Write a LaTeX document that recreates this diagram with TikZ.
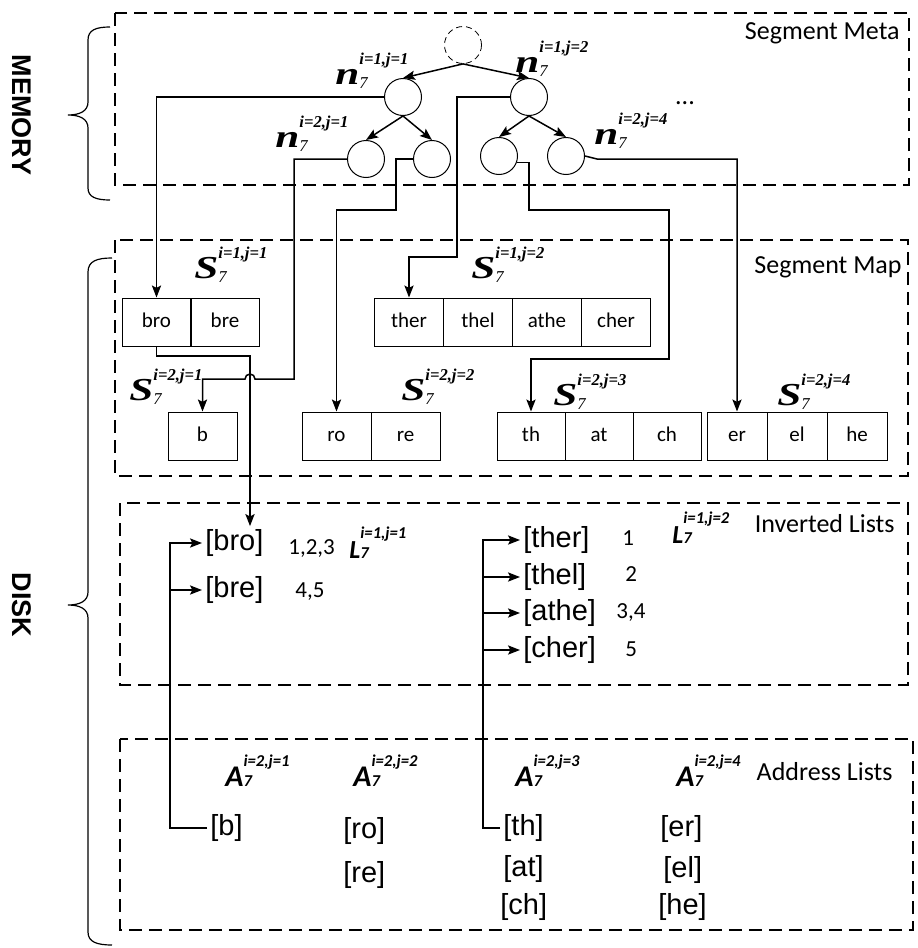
\documentclass[tikz,border=0pt]{standalone}
\usepackage{fontspec}
\newfontfamily\calfont{Carlito}
\newfontfamily\arialfont{Liberation Sans}
\newfontfamily\timesfont{Liberation Serif}
\usetikzlibrary{arrows.meta,positioning,calc}

% letter with stacked super- and subscript
\newcommand{\ixlab}[4][-2pt]{#2\rlap{\raisebox{10pt}{\fontsize{8.3}{9}\selectfont #3}}\raisebox{#1}{\fontsize{8.3}{9}\selectfont #4}}
\newcommand{\wide}[1]{\scalebox{1.35}[1]{#1}}

\tikzset{
  frame/.style={draw, line width=1pt, dash pattern=on 6.5pt off 3.5pt},
  knot/.style={circle, draw, line width=0.5pt, minimum size=18.5pt, inner sep=0pt},
  cell/.style={draw, line width=0.5pt, minimum width=34.5pt, minimum height=24pt, inner sep=0pt, text height=7.5pt, text depth=2pt, font=\calfont\fontsize{10.5}{12}\selectfont},
  arr/.style={line width=0.75pt, -{Stealth[length=6pt,width=4.6pt,inset=1.2pt]}},
  serlab/.style={anchor=base west, inner sep=0pt, font=\timesfont\bfseries\itshape\fontsize{16}{18}\selectfont},
  sanlab/.style={anchor=base west, inner sep=0pt, font=\calfont\bfseries\itshape\fontsize{15}{17}\selectfont},
  title/.style={anchor=base east, inner sep=0pt, font=\calfont\fontsize{13}{15}\selectfont},
  entry/.style={anchor=west, inner sep=1.5pt, font=\arialfont\fontsize{14.5}{16}\selectfont},
  count/.style={anchor=base west, inner sep=0pt, font=\calfont\fontsize{11.5}{13}\selectfont},
  side/.style={rotate=-90, font=\arialfont\bfseries\fontsize{13.5}{15}\selectfont},
  brc/.style={line width=0.6pt},
}

\begin{document}
\begin{tikzpicture}[x=0.5pt, y=-0.5pt]
  \useasboundingbox (0,0) rectangle (917,948);

  % frames
  \draw[frame] (115,13) rectangle (909,185);
  \draw[frame] (115,240) rectangle (908,476);
  \draw[frame] (120,503) rectangle (908,685);
  \draw[frame] (120,739) rectangle (913,930);

  \node[title] (tmeta) at (900,39) {Segment Meta};
  \node[title] (tmap) at (902,273) {Segment Map};
  \node[title] (tinv) at (895,532) {Inverted Lists};
  \node[title] (taddr) at (893,780) {Address Lists};

  % braces
  \draw[brc] (110,27) .. controls (96,27) and (88,30) .. (88,40) -- (88,102)
    .. controls (88,111) and (80,115) .. (68,115) .. controls (80,115) and (88,119) .. (88,128)
    -- (88,188) .. controls (88,197) and (96,200) .. (110,200);
  \draw[brc] (112,258) .. controls (97,258) and (88,261) .. (88,272) -- (88,592)
    .. controls (88,601) and (80,605) .. (68,605) .. controls (80,605) and (88,609) .. (88,618)
    -- (88,932) .. controls (88,942) and (97,945) .. (112,945);
  \node[side] (mem) at (22,115) {MEMORY};
  \node[side] (disk) at (22,605) {DISK};

  % segment meta tree
  \node[knot, densely dashed, line width=0.4pt] (root) at (463,45) {};
  \node[knot] (n11) at (403,97) {};
  \node[knot] (n12) at (529,97) {};
  \node[knot] (n21) at (366,159) {};
  \node[knot] (n22) at (432,159) {};
  \node[knot] (n23) at (499,156) {};
  \node[knot] (n24) at (566,156) {};
  \node[font=\calfont\fontsize{13}{15}\selectfont] (dots) at (685,103) {...};

  \draw[arr] (root.south) -- (n11.north);
  \draw[arr] (root.south) -- (n12.north);
  \draw[arr] (n11.south) -- (n21.north);
  \draw[arr] (n11.south) -- (n22.north);
  \draw[arr] (n12.south) -- (n23.north);
  \draw[arr] (n12.south) -- (n24.north);

  \node[serlab] (ln11) at (335,84) {\ixlab{\wide{n}}{i=1,j=1}{\mdseries 7}};
  \node[serlab] (ln12) at (515,72) {\ixlab{\wide{n}}{i=1,j=2}{\mdseries 7}};
  \node[serlab] (ln21) at (275,147) {\ixlab{\wide{n}}{i=2,j=1}{\mdseries 7}};
  \node[serlab] (ln24) at (594,144) {\ixlab{\wide{n}}{i=2,j=4}{\mdseries 7}};

  % segment map
  \node[cell] (bro) at (156.5,322) {bro};
  \node[cell] (bre) at (225,322) {bre};
  \node[cell] (ther) at (409,322) {ther};
  \node[cell] (thel) at (478,322) {thel};
  \node[cell] (athe) at (547,322) {athe};
  \node[cell] (cher) at (616,322) {cher};
  \node[cell] (b) at (202.5,436) {b};
  \node[cell] (ro) at (336.5,436) {ro};
  \node[cell] (re) at (405.5,436) {re};
  \node[cell, minimum width=34pt] (th) at (531,436) {th};
  \node[cell, minimum width=34pt] (at) at (599,436) {at};
  \node[cell, minimum width=34pt] (ch) at (667,436) {ch};
  \node[cell, minimum width=30pt] (er) at (737,436) {er};
  \node[cell, minimum width=30pt] (el) at (797,436) {el};
  \node[cell, minimum width=30pt] (he) at (857,436) {he};

  \node[serlab] (ls11) at (194,278) {\ixlab{\wide{S}}{i=1,j=1}{\mdseries 7}};
  \node[serlab] (ls12) at (471,278) {\ixlab{\wide{S}}{i=1,j=2}{\mdseries 7}};
  \node[serlab] (ls21) at (129,400) {\ixlab{\wide{S}}{i=2,j=1}{\mdseries 7}};
  \node[serlab] (ls22) at (401,400) {\ixlab{\wide{S}}{i=2,j=2}{\mdseries 7}};
  \node[serlab] (ls23) at (553,405) {\ixlab{\wide{S}}{i=2,j=3}{\mdseries 7}};
  \node[serlab] (ls24) at (777,405) {\ixlab{\wide{S}}{i=2,j=4}{\mdseries 7}};

  \draw[arr] (n11.west) -| (bro.north);
  \draw[arr] (n12.west) -| (457,257) -| (ther.north);
  \draw[arr] (n21.west) -| (294,379) -- (255,379) arc[start angle=0, end angle=180, radius=2.5pt] -| (b.north);
  \draw[arr] (n22.west) -| (396,210) -| (ro.north);
  \draw[arr] (n23.-20) -| (529,210) -| (669,359) -| (th.north);
  \draw[arr] (n24.east) -- (597,159) -| (er.north);

  % inverted lists
  \node[entry] (lbro) at (202,543) {[bro]};
  \node[entry] (lbre) at (202,590) {[bre]};
  \node[entry] (lther) at (520,540) {[ther]};
  \node[entry] (lthel) at (520,577) {[thel]};
  \node[entry] (lathe) at (520,613) {[athe]};
  \node[entry] (lcher) at (520,650) {[cher]};

  \node[count] (c1) at (288,554) {1,2,3};
  \node[count] (c2) at (295,597) {4,5};
  \node[count] (c3) at (622,545) {1};
  \node[count] (c4) at (625,581) {2};
  \node[count] (c5) at (616,618) {3,4};
  \node[count] (c6) at (625,656) {5};

  \node[sanlab, font=\calfont\bfseries\itshape\fontsize{13}{15}\selectfont] (ll11) at (349,558) {\ixlab[0pt]{L}{i=1,j=1}{7}};
  \node[sanlab, font=\calfont\bfseries\itshape\fontsize{13}{15}\selectfont] (ll12) at (672,543) {\ixlab[0pt]{L}{i=1,j=2}{7}};

  \draw[arr] (bro.south) |- (250,356) -- (250,0 |- lbro.north);

  % address lists
  \node[sanlab] (la1) at (225,786) {\ixlab[0pt]{A}{i=2,j=1}{7}};
  \node[sanlab] (la2) at (353,786) {\ixlab[0pt]{A}{i=2,j=2}{7}};
  \node[sanlab] (la3) at (515,786) {\ixlab[0pt]{A}{i=2,j=3}{7}};
  \node[sanlab] (la4) at (676,786) {\ixlab[0pt]{A}{i=2,j=4}{7}};

  \node[entry] (ab) at (207,828) {[b]};
  \node[entry] (aro) at (340,831) {[ro]};
  \node[entry] (are) at (340,875) {[re]};
  \node[entry] (ath) at (500,828) {[th]};
  \node[entry] (aat) at (500,869) {[at]};
  \node[entry] (ach) at (497,907) {[ch]};
  \node[entry] (aer) at (657,829) {[er]};
  \node[entry] (ael) at (660,870) {[el]};
  \node[entry] (ahe) at (655,907) {[he]};

  \draw[arr] (ab.west) -| (170,0 |- lbro.west) -- (lbro.west);
  \draw[arr] (lbre.west -| 170,0) -- (lbre.west);
  \draw[arr] (ath.west) -| (483,0 |- lther.west) -- (lther.west);
  \draw[arr] (lthel.west -| 483,0) -- (lthel.west);
  \draw[arr] (lathe.west -| 483,0) -- (lathe.west);
  \draw[arr] (lcher.west -| 483,0) -- (lcher.west);
\end{tikzpicture}
\end{document}
